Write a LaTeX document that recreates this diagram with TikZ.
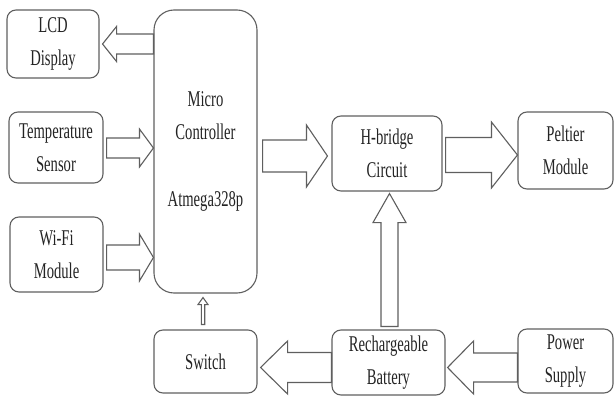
\documentclass[tikz,border=0pt]{standalone}
\usepackage{fontspec}
\setmainfont{Liberation Serif}[FakeStretch=0.65]
\usetikzlibrary{calc}
\definecolor{linecol}{RGB}{95,95,95}
\definecolor{txtcol}{RGB}{35,35,35}
\tikzset{
  blk/.style={draw=linecol, line width=1.1pt, rounded corners=9pt, inner sep=0pt,
    align=center, text=txtcol, font=\fontsize{22.5}{33}\selectfont},
  arrowline/.style={draw=linecol, line width=1.1pt, line join=miter, fill=white},
}
\newcommand\barrow[5]{%
  \coordinate (abase) at ($(#2)!#5!(#1)$);
  \draw[arrowline] ($(#1)!#3!90:(#2)$) -- ($(abase)!#3!90:(#2)$) -- ($(abase)!#4!90:(#2)$)
    -- (#2) -- ($(abase)!#4!-90:(#2)$) -- ($(abase)!#3!-90:(#2)$) -- ($(#1)!#3!-90:(#2)$) -- cycle;
}
\begin{document}
\begin{tikzpicture}[x=1pt,y=-1pt]
\useasboundingbox (0,0) rectangle (614,396);
\node[blk, minimum width=92pt, minimum height=68pt] (lcd) at (53,44) {LCD\\Display};
\node[blk, minimum width=94pt, minimum height=71pt] (temp) at (56,147.5) {Temperature\\Sensor};
\node[blk, minimum width=93pt, minimum height=75pt] (wifi) at (56.5,254.5) {Wi-Fi\\Module};
\node[blk, rounded corners=20pt, minimum width=103pt, minimum height=283pt] (mc) at (205.5,151.5) {Micro\\Controller\\[34pt]Atmega328p};
\node[blk, minimum width=103pt, minimum height=63pt] (switch) at (205.5,361.5) {Switch};
\node[blk, minimum width=110pt, minimum height=75pt] (hb) at (387,153.5) {H-bridge\\Circuit};
\node[blk, minimum width=95pt, minimum height=77pt] (pelt) at (565.5,150.5) {Peltier\\Module};
\node[blk, minimum width=113pt, minimum height=65pt] (bat) at (388.5,362.5) {Rechargeable\\Battery};
\node[blk, minimum width=95pt, minimum height=64pt] (ps) at (565.5,361) {Power\\Supply};

\coordinate (a1t) at (mc.west |- lcd.east);
\coordinate (a1h) at ($(lcd.east)+(3,0)$);
\barrow{a1t}{a1h}{10pt}{17.5pt}{14pt}

\coordinate (a2t) at ($(temp.east)+(3,0.5)$);
\coordinate (a2h) at (mc.west |- a2t);
\barrow{a2t}{a2h}{10pt}{19pt}{14pt}

\coordinate (a3t) at ($(wifi.east)+(3,3)$);
\coordinate (a3h) at (mc.west |- a3t);
\barrow{a3t}{a3h}{12.5pt}{23.5pt}{14pt}

\coordinate (a4t) at ($(mc.east |- hb.west)+(5,2.5)$);
\coordinate (a4h) at ($(hb.west)+(-4,2.5)$);
\barrow{a4t}{a4h}{16pt}{31pt}{21pt}

\coordinate (a5t) at ($(hb.east)+(3,1.5)$);
\coordinate (a5h) at (pelt.west |- a5t);
\barrow{a5t}{a5h}{17.5pt}{33pt}{26pt}

\coordinate (a6t) at ($(bat.north)+(1,-3)$);
\coordinate (a6x) at (a6t |- hb.south);
\coordinate (a6h) at ($(a6x)+(0,2)$);
\barrow{a6t}{a6h}{8.5pt}{16.5pt}{29pt}

\coordinate (a7t) at ($(ps.west)+(0,6.5)$);
\coordinate (a7x) at (bat.east |- a7t);
\coordinate (a7h) at ($(a7x)+(2,0)$);
\barrow{a7t}{a7h}{14.5pt}{26.5pt}{26pt}

\coordinate (a8t) at (bat.west |- a7t);
\coordinate (a8x) at (switch.east |- a8t);
\coordinate (a8h) at ($(a8x)+(3,0)$);
\barrow{a8t}{a8h}{15pt}{26.5pt}{27pt}

\coordinate (a9t) at ($(switch.north)+(-2.5,-5)$);
\coordinate (a9x) at (a9t |- mc.south);
\coordinate (a9h) at ($(a9x)+(0,4)$);
\barrow{a9t}{a9h}{1.7pt}{5pt}{7pt}
\end{tikzpicture}
\end{document}
